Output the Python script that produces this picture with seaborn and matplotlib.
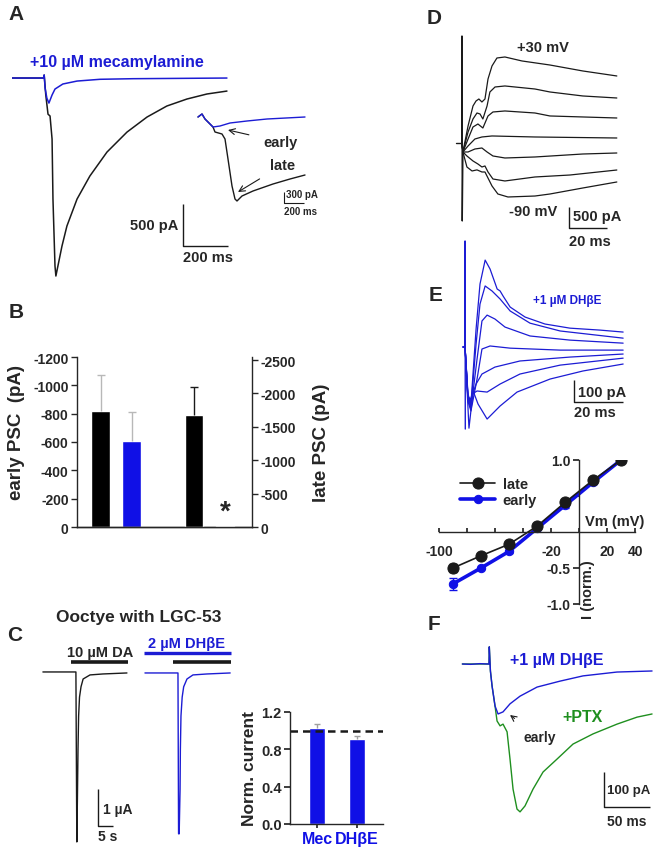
import numpy as np
import pandas as pd
import matplotlib
matplotlib.use('Agg')
import matplotlib.pyplot as plt
import seaborn as sns

# ---- A: PSC in ms / pA, control (black) and +mecamylamine (blue)
a_t_blue = [0, 140, 143, 147, 155, 164, 178, 191, 226, 289, 391, 537, 955]
a_i_blue = [0, 0, 36, -120, -240, -298, -202, -131, -71, -36, -15, -8, 0]
a_t_black = [0, 140, 143, 150, 160, 169, 178, 182, 191, 195, 204, 222, 244, 289,
             346, 422, 511, 600, 688, 777, 866, 955]
a_i_black = [0, 0, 36, -200, -430, -452, -726, -1440, -2237, -2356, -2237, -2000,
             -1761, -1440, -1166, -881, -643, -464, -333, -250, -190, -155]
# inset (different scale)
ai_t_blue = [0, 40, 70, 100, 150, 220, 320, 490, 690, 1070]
ai_i_blue = [0, 81, -54, -135, -270, -243, -162, -108, -54, 0]
ai_t_black = [0, 40, 70, 100, 150, 170, 240, 270, 300, 340, 370, 390, 440, 550,
              750, 920, 1070]
ai_i_black = [0, 81, -54, -135, -270, -405, -459, -594, -1134, -1863, -2214,
              -2268, -2133, -1998, -1809, -1674, -1566]

# ---- B: mean PSC amplitudes (pA)
b_groups = ['ec', 'em', 'gap', 'lc', 'lm']
b_early = [-820, -605]
b_early_err = [255, 210]
b_late = [-1680, -10]
b_late_err = [420, 0]

# ---- C: oocyte currents (s / uA) and normalized current
c_t_black = [0.3, 11.3, 11.6, 11.8, 12.0, 12.2, 12.5, 13.0, 13.7, 16.0, 20.3, 28.3]
c_i_black = [0, 0, -4.59, -3.43, -2.08, -1.19, -0.68, -0.40, -0.19, -0.08, -0.054, -0.027]
c_t_blue = [34.3, 45.3, 45.5, 45.7, 46.0, 46.1, 46.3, 46.7, 47.2, 48.3, 50.3, 55.0, 62.7]
c_i_blue = [-0.027, -0.027, -4.37, -4.37, -3.16, -2.1, -1.19, -0.68, -0.40, -0.19,
            -0.08, -0.054, -0.027]
c_names = ['Mec', 'DH\u03b2E']
c_norm = [1.03, 0.91]
c_norm_err = [0.04, 0.03]

# ---- D: I-V family, control (ms / pA), +30 ... -90 mV
d_t = [
    [0, 0.5, 3.2, 5.8, 7.4, 8.9, 10.5, 12.1, 13.7, 15.8, 18.4, 22.6, 31.6, 46.3, 63.6, 81.5],
    [0, 0.5, 3.2, 5.8, 7.9, 9.5, 11.0, 13.2, 14.7, 17.4, 22.6, 38.4, 46.3, 63.6, 81.5],
    [0, 0.5, 3.2, 5.8, 8.4, 11.0, 13.7, 16.3, 22.6, 38.4, 46.3, 81.5],
    [0, 0.5, 3.2, 6.8, 10.5, 15.8, 38.4, 81.5],
    [0, 0.5, 3.2, 6.8, 10.5, 13.2, 16.3, 22.6, 38.4, 63.6, 81.5],
    [0, 0.5, 2.6, 5.8, 8.4, 10.5, 12.1, 13.7, 16.3, 22.6, 38.4, 56.8, 81.5],
    [0, 0.5, 2.6, 5.3, 7.9, 10.5, 12.1, 15.8, 18.9, 24.2, 38.4, 46.3, 63.6, 81.5],
]
d_i = [
    [0, -214, 405, 881, 1000, 1047, 976, 1047, 1523, 1833, 2023, 2047, 1952, 1856, 1714, 1595],
    [0, -214, 262, 571, 714, 690, 571, 881, 1214, 1333, 1357, 1285, 1214, 1119, 1071],
    [0, -214, 95, 381, 452, 357, 643, 738, 762, 714, 643, 595],
    [0, -214, -71, 95, 143, 167, 143, 119],
    [0, -214, -214, -143, -119, -214, -309, -357, -333, -262, -238],
    [0, -214, -309, -428, -500, -571, -547, -690, -857, -904, -809, -762, -643],
    [0, -214, -571, -666, -640, -690, -690, -1023, -1214, -1285, -1262, -1214, -1071, -928],
]

# ---- E: I-V family, +1 uM DHbE (ms / pA)
e_t = [
    [0, 1.2, 2.4, 4.5, 6.1, 8.2, 10.2, 13.1, 14.3, 15.5, 18.4, 24.5, 32.6, 42.8, 55.1, 64.5],
    [0, 1.2, 2.4, 4.5, 6.1, 8.2, 11.0, 14.3, 18.4, 26.5, 38.8, 64.5],
    [0, 1.2, 2.4, 4.9, 6.9, 9.0, 12.2, 16.3, 26.5, 42.8, 64.5],
    [0, 1.2, 2.4, 4.9, 6.9, 10.2, 18.4, 38.8, 64.5],
    [0, 1.2, 2.4, 4.5, 6.9, 12.2, 22.4, 42.8, 64.5],
    [0, 1.2, 2.0, 2.9, 4.9, 9.0, 14.3, 22.4, 38.8, 64.5],
    [0, 1.6, 3.3, 5.3, 9.0, 14.3, 21.2, 34.7, 48.1, 64.5],
]
e_i = [
    [0, -216, -262, 83, 290, 400, 359, 267, 258, 235, 184, 138, 106, 87, 78, 69],
    [0, -230, -276, 14, 198, 281, 258, 221, 166, 110, 74, 41],
    [0, -240, -285, -55, 120, 147, 129, 92, 51, 32, 18],
    [0, -250, -294, -147, -9, 5, -5, -14, -14],
    [0, -230, -240, -170, -124, -92, -64, -46, -32],
    [0, -240, -250, -216, -202, -207, -170, -124, -83, -51],
    [0, -373, -202, -262, -331, -271, -207, -147, -110, -78],
]

# ---- E (bottom): normalized I-V
iv_v = [-90, -70, -50, -30, -10, 10, 30]
iv_late = [-0.50, -0.33, -0.17, 0.08, 0.41, 0.72, 1.0]
iv_late_err = [0.06, 0.03, 0.02, 0.02, 0.04, 0.03, 0.0]
iv_early = [-0.72, -0.50, -0.27, 0.05, 0.37, 0.69, 1.0]
iv_early_err = [0.08, 0.02, 0.02, 0.02, 0.03, 0.03, 0.0]

# ---- F: DHbE (blue) then +PTX (green), ms / pA
f_t_blue = [-29, -20, -10, -2, 0, 0.3, 1.5, 3.3, 6.5, 9.8, 15.2, 22.8, 33.7, 52.2,
            77.2, 102.2, 139.1, 177.2]
f_i_blue = [0, -1, 1, 0, 0, 49, -20, -63, -120, -143, -137, -114, -92, -66, -49,
            -34, -23, -20]
f_t_green = [-29, -2, 0, 0.3, 1.5, 3.3, 6.5, 8.7, 12.0, 15.2, 19.6, 22.8, 26.1, 30.4,
             33.7, 39.1, 47.8, 58.7, 73.9, 91.3, 113.0, 139.1, 160.9, 177.2]
f_i_green = [0, 0, 0, 49, -20, -63, -120, -163, -177, -172, -194, -272, -358, -415,
             -423, -406, -358, -309, -272, -229, -200, -172, -152, -143]

BLUE = '#1c1cd4'
BAR_BLUE = '#1010e6'
GREEN = '#1f8f1f'

sns.set_theme(style='white')
plt.rcParams['font.family'] = ['Liberation Sans', 'DejaVu Sans']
plt.rcParams['font.weight'] = 'bold'
plt.rcParams['axes.unicode_minus'] = False
plt.rcParams['axes.linewidth'] = 1.0

W, H = 658, 853
fig = plt.figure(figsize=(W / 100, H / 100), dpi=100)


def box(x0, y0, x1, y1):
    return fig.add_axes([x0 / W, 1 - y1 / H, (x1 - x0) / W, (y1 - y0) / H])


def trace(ax, t, i, color='k', lw=1.0):
    sns.lineplot(x=t, y=i, ax=ax, sort=False, estimator=None, color=color, lw=lw)


def scalebar(ax, x, y, dx, dy, lw=1.0):
    ax.plot([x, x, x + dx], [y + dy, y, y], color='k', lw=lw, solid_capstyle='butt')


# panel letters
for lab, (px, py) in zip('ABCDEF', [(16, 15), (16, 312), (15, 636), (434, 18),
                                    (436, 296), (434, 625)]):
    fig.text(px / W, 1 - py / H, lab, fontsize=15, fontweight='bold', ha='center', va='center')

# ---------------- A
axA = box(12, 55, 310, 285)
trace(axA, a_t_black, a_i_black, 'k', 1.1)
trace(axA, a_t_blue, a_i_blue, BLUE, 1.1)
axA.set_xlim(0, 1324)
axA.set_ylim(-2451, 286)
axA.axis('off')
axA.text(80, 202, '+10 \u00b5M mecamylamine', color=BLUE, fontsize=11.5, va='center')
scalebar(axA, 760, -2000, 200, 500)
axA.text(740, -1750, '500 pA', fontsize=10.5, ha='right', va='center')
axA.text(760, -2130, '200 ms', fontsize=10.5, ha='left', va='center')

axAi = box(195, 108, 310, 210)
trace(axAi, ai_t_black, ai_i_black, 'k', 1.0)
trace(axAi, ai_t_blue, ai_i_blue, BLUE, 1.0)
axAi.set_xlim(-30, 1120)
axAi.set_ylim(-2484, 270)
axAi.axis('off')
axAi.annotate('early', xy=(300, -351), xytext=(650, -675), fontsize=10.5, va='center',
              arrowprops=dict(arrowstyle='->', lw=0.8, color='k', shrinkA=8, shrinkB=0))
axAi.annotate('late', xy=(400, -2025), xytext=(720, -1296), fontsize=10.5, va='center',
              arrowprops=dict(arrowstyle='->', lw=0.8, color='k', shrinkA=6, shrinkB=0))
scalebar(axAi, 860, -2322, 200, 300, lw=0.8)
axAi.text(880, -2090, '300 pA', fontsize=7, va='center')
axAi.text(860, -2540, '200 ms', fontsize=7, va='center')

# ---------------- B
axB = box(77, 358, 252, 528)
pal = {'ec': 'black', 'em': BAR_BLUE, 'lc': 'black', 'lm': BAR_BLUE}
sns.barplot(x=['ec', 'em'], y=b_early, order=b_groups, hue=['ec', 'em'], palette=pal,
            saturation=1, width=0.61, errorbar=None, legend=False, ax=axB)
for k, (v, e) in enumerate(zip(b_early, b_early_err)):
    axB.vlines(k, v, v - e, color='#b8b8b8', lw=1)
    axB.hlines(v - e, k - 0.13, k + 0.13, color='#b8b8b8', lw=1)
axB.set_ylim(0, -1200)
axB.set_yticks([0, -200, -400, -600, -800, -1000, -1200])
axB.set_yticklabels(['0', '-200', '-400', '-600', '-800', '-1000', '-1200'])
axB2 = axB.twinx()
sns.barplot(x=['lc', 'lm'], y=b_late, order=b_groups, hue=['lc', 'lm'], palette=pal,
            saturation=1, width=0.61, errorbar=None, legend=False, ax=axB2)
for k, (v, e) in zip([3, 4], zip(b_late, b_late_err)):
    if e > 0:
        axB2.vlines(k, v, v - e, color='k', lw=1)
        axB2.hlines(v - e, k - 0.13, k + 0.13, color='k', lw=1)
axB2.text(4, -230, '*', fontsize=20, ha='center', va='center')
axB2.set_ylim(0, -2545)
axB2.set_yticks([0, -500, -1000, -1500, -2000, -2500])
axB2.set_yticklabels(['0', '-500', '-1000', '-1500', '-2000', '-2500'])
axB.set_xlim(-0.77, 4.87)
for a in (axB, axB2):
    a.set_xticks([])
    a.set_xlabel('')
    a.set_ylabel('')
    a.tick_params(axis='y', length=4, width=1, labelsize=10, pad=2, direction='out')
    for lbl in a.get_yticklabels():
        lbl.set_fontweight('bold')
    a.spines['top'].set_visible(False)
axB.spines['right'].set_visible(False)
axB.tick_params(axis='y', left=True)
axB2.tick_params(axis='y', right=True)
axB2.spines['left'].set_visible(False)
fig.text(17 / W, 1 - 433 / H, 'early PSC  (pA)', rotation=90, fontsize=13.5,
         ha='center', va='center')
fig.text(321 / W, 1 - 443 / H, 'late PSC (pA)', rotation=90, fontsize=13.5,
         ha='center', va='center')

# ---------------- C traces
axC = box(38, 640, 235, 850)
trace(axC, c_t_black, c_i_black, 'k', 1.0)
trace(axC, c_t_blue, c_i_blue, BLUE, 1.0)
axC.set_xlim(-1.33, 64.3)
axC.set_ylim(-4.78, 0.89)
axC.axis('off')
axC.plot([9.7, 28.7], [0.27, 0.27], color='k', lw=2.6, solid_capstyle='butt')
axC.plot([34.0, 63.0], [0.51, 0.51], color=BLUE, lw=2.4, solid_capstyle='butt')
axC.plot([43.6, 63.0], [0.27, 0.27], color='k', lw=2.6, solid_capstyle='butt')
axC.text(19.3, 0.55, '10 \u00b5M DA', fontsize=10.5, ha='center', va='center')
axC.text(48.0, 0.78, '2 \u00b5M DH\u03b2E', fontsize=10.5, ha='center', va='center',
         color=BLUE)
scalebar(axC, 18.7, -4.16, 5, 1)
axC.text(20.3, -3.70, '1 \u00b5A', fontsize=10, va='center')
axC.text(18.7, -4.42, '5 s', fontsize=10, va='center')
fig.text(139 / W, 1 - 618 / H, 'Ooctye with LGC-53', fontsize=12.5, ha='center', va='center')

# ---------------- C bars
axCb = box(290, 713, 383, 825)
sns.barplot(x=c_names, y=c_norm, color=BAR_BLUE, saturation=1, width=0.4,
            errorbar=None, ax=axCb)
for k, (v, e) in enumerate(zip(c_norm, c_norm_err)):
    axCb.vlines(k, v, v + e, color='#a0a0a0', lw=1)
    axCb.hlines(v + e, k - 0.08, k + 0.08, color='#a0a0a0', lw=1)
axCb.axhline(1.0, color='k', lw=1.8, ls=(0, (3, 2)))
axCb.set_xlim(-0.675, 1.65)
axCb.set_ylim(0, 1.2)
axCb.set_yticks([0, 0.4, 0.8, 1.2])
axCb.set_yticklabels(['0.0', '0.4', '0.8', '1.2'])
axCb.set_ylabel('Norm. current', fontsize=12.5, fontweight='bold', labelpad=3)
axCb.set_xlabel('')
axCb.tick_params(axis='y', length=4, labelsize=10.5, pad=2, left=True)
axCb.tick_params(axis='x', length=3, labelsize=11.5, pad=2, bottom=True)
for lbl in axCb.get_xticklabels():
    lbl.set_color(BAR_BLUE)
    lbl.set_fontweight('bold')
for lbl in axCb.get_yticklabels():
    lbl.set_fontweight('bold')
sns.despine(ax=axCb)

# ---------------- D
axD = box(450, 30, 625, 235)
axD.plot([-3.2, 0], [0, 0], color='k', lw=1.0)
axD.plot([0, 0, 0.15, 0.5], [0, 2547, -1856, -214], color='k', lw=1.0)
for t, i in zip(d_t, d_i):
    trace(axD, t, i, 'k', 0.9)
axD.set_xlim(-6.3, 85.8)
axD.set_ylim(-2166, 2713)
axD.axis('off')
axD.text(29, 2285, '+30 mV', fontsize=10.5, va='center')
axD.text(25, -1618, '-90 mV', fontsize=10.5, va='center')
scalebar(axD, 56.3, -2023, 20, 500)
axD.text(58.4, -1737, '500 pA', fontsize=10.5, va='center')
axD.text(67.3, -2332, '20 ms', fontsize=10.5, ha='center', va='center')

# ---------------- E traces
axE = box(455, 235, 630, 432)
axE.plot([-0.9, 0], [0, 0], color=BLUE, lw=1.5)
axE.plot([0, 0, 0.1], [0, 488, -377], color=BLUE, lw=1.0)
for t, i in zip(e_t, e_i):
    trace(axE, t, i, BLUE, 0.9)
axE.set_xlim(-4.1, 67.3)
axE.set_ylim(-386, 520)
axE.axis('off')
axE.text(27.7, 216, '+1 \u00b5M DH\u03b2E', fontsize=8.5, color=BLUE, va='center')
scalebar(axE, 44.5, -253, 20, 100)
axE.text(46.0, -205, '100 pA', fontsize=10.5, va='center')
axE.text(53.0, -299, '20 ms', fontsize=10.5, ha='center', va='center')

# ---------------- E I-V
axIV = box(439, 461, 635, 605)
iv = pd.DataFrame({'V': iv_v, 'late': iv_late, 'early': iv_early})
sns.lineplot(data=iv, x='V', y='early', ax=axIV, color=BAR_BLUE, lw=2.6, marker='o',
             ms=6, mec=BAR_BLUE, label='early', sort=False, estimator=None)
axIV.errorbar(iv_v, iv_early, yerr=iv_early_err, fmt='none', ecolor=BAR_BLUE,
              elinewidth=1, capsize=3)
sns.lineplot(data=iv, x='V', y='late', ax=axIV, color='k', lw=1.2, marker='o',
             ms=8, mec='k', label='late', sort=False, estimator=None)
axIV.errorbar(iv_v, iv_late, yerr=iv_late_err, fmt='none', ecolor='k',
              elinewidth=1, capsize=3)
axIV.set_xlim(-100, 40)
axIV.set_ylim(-1, 1)
axIV.spines['left'].set_position(('data', 0))
axIV.spines['bottom'].set_position(('data', 0))
axIV.spines['top'].set_visible(False)
axIV.spines['right'].set_visible(False)
axIV.set_xticks([-100, -80, -60, -40, -20, 0, 20, 40])
axIV.set_xticklabels(['-100', '', '', '', '-20', '', '20', '40'])
axIV.set_yticks([-1.0, -0.5, 0.5, 1.0])
axIV.set_yticklabels(['-1.0', '-0.5', '', '1.0'])
axIV.tick_params(axis='x', direction='in', length=3, labelsize=10, pad=9, bottom=True)
axIV.tick_params(axis='y', direction='out', length=4, labelsize=10, pad=2, left=True)
for lbl in axIV.get_xticklabels() + axIV.get_yticklabels():
    lbl.set_fontweight('bold')
axIV.set_xlabel('')
axIV.set_ylabel('')
axIV.text(4.3, 0.15, 'Vm (mV)', fontsize=10.5, va='center')
axIV.text(6.4, -0.79, 'I (norm.)', fontsize=10.5, rotation=90, ha='center', va='center')
h, l = axIV.get_legend_handles_labels()
axIV.legend(h[::-1], l[::-1], loc='upper left', bbox_to_anchor=(450 / W, 1 - 468 / H),
            bbox_transform=fig.transFigure, frameon=False, fontsize=10.5,
            handlelength=2.4, handletextpad=0.5, labelspacing=0.15, borderpad=0.2)

# ---------------- F
axF = box(455, 640, 655, 830)
trace(axF, f_t_green, f_i_green, GREEN, 1.0)
trace(axF, f_t_blue, f_i_blue, BLUE, 1.0)
axF.set_xlim(-37, 180.4)
axF.set_ylim(-472, 71.5)
axF.axis('off')
axF.text(22.8, 14, '+1 \u00b5M DH\u03b2E', fontsize=11.5, color=BLUE, va='center')
axF.text(80, -149, '+PTX', fontsize=11.5, color=GREEN, va='center')
axF.annotate('early', xy=(22.8, -146), xytext=(37, -209), fontsize=10, va='center',
             arrowprops=dict(arrowstyle='->', lw=0.8, color='k', shrinkA=10, shrinkB=0))
scalebar(axF, 125, -409, 50, 100)
axF.text(128, -360, '100 pA', fontsize=9.5, va='center')
axF.text(150, -449, '50 ms', fontsize=10, ha='center', va='center')

fig.savefig('out.png', dpi=100)
